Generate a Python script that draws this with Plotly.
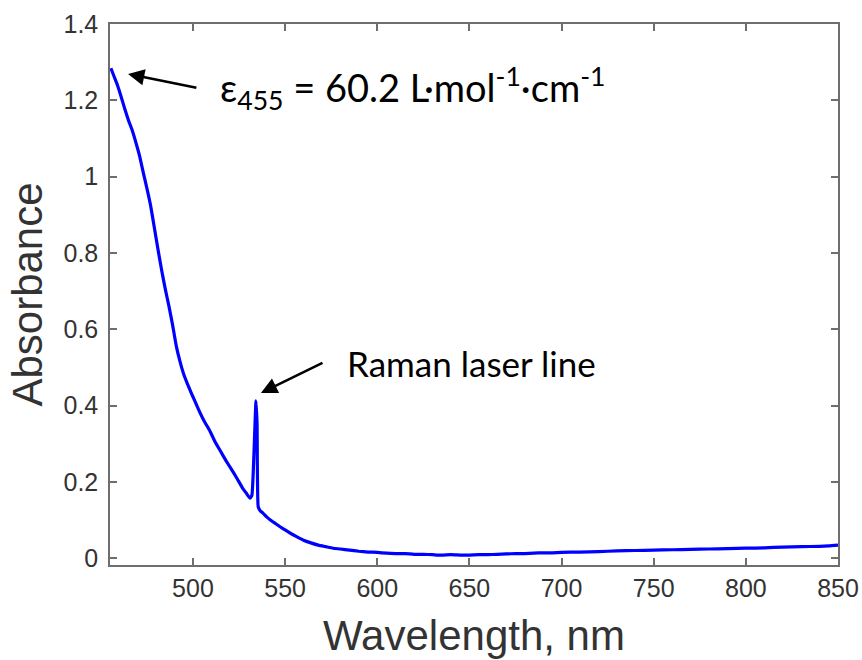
import plotly.graph_objects as go

wavelength = [455.5, 457, 459, 461, 463, 465, 467, 469, 471, 473, 475, 477, 479, 481, 483, 485,
              487, 489, 491, 493, 495, 497, 499, 501, 503, 506, 509, 512, 515, 518, 521, 524, 527,
              529, 531, 532, 533, 534.2, 534.8, 535.4, 536.5, 538, 540, 542, 545, 548, 550,
              553, 556, 560, 564, 568, 572, 576, 580, 585, 590, 595, 600, 605, 610, 615, 620,
              625, 630, 635, 640, 645, 650, 655, 660, 665, 670, 675, 680, 685, 690, 695, 700,
              710, 720, 730, 740, 750, 760, 770, 780, 790, 800, 810, 820, 830, 840, 845, 850]
absorbance = [1.284, 1.265, 1.240, 1.210, 1.178, 1.148, 1.122, 1.090, 1.055, 1.012, 0.970, 0.925,
              0.868, 0.810, 0.755, 0.705, 0.660, 0.610, 0.555, 0.515, 0.482, 0.457, 0.434, 0.412,
              0.390, 0.360, 0.335, 0.305, 0.280, 0.255, 0.232, 0.208, 0.183, 0.170, 0.157, 0.165,
              0.260, 0.412, 0.350, 0.135, 0.124, 0.118, 0.108, 0.100, 0.090, 0.080, 0.074, 0.065,
              0.057, 0.047, 0.040, 0.034, 0.030, 0.026, 0.024, 0.021, 0.018, 0.016, 0.015, 0.013,
              0.012, 0.012, 0.010, 0.010, 0.009, 0.008, 0.009, 0.008, 0.008, 0.009, 0.009, 0.010,
              0.011, 0.012, 0.012, 0.013, 0.014, 0.014, 0.015, 0.016, 0.017, 0.019, 0.020, 0.021,
              0.022, 0.023, 0.024, 0.025, 0.026, 0.027, 0.029, 0.030, 0.031, 0.032, 0.034]

x_ticks = [500, 550, 600, 650, 700, 750, 800, 850]
y_ticks = [0, 0.2, 0.4, 0.6, 0.8, 1.0, 1.2, 1.4]
y_tick_labels = ["0", "0.2", "0.4", "0.6", "0.8", "1", "1.2", "1.4"]

eps_text = "ε<sub>455</sub> = 60.2 L·mol<sup>-1</sup>·cm<sup>-1</sup>"
raman_text = "Raman laser line"

fig = go.Figure()
fig.add_trace(go.Scatter(x=wavelength, y=absorbance, mode="lines",
                         line=dict(color="#0000FF", width=3.2, shape="spline", smoothing=0.4),
                         showlegend=False))

axis_common = dict(showline=True, linecolor="#6e6e6e", linewidth=1.5, mirror="ticks",
                   ticks="inside", ticklen=7, tickwidth=1.5, tickcolor="#6e6e6e",
                   showgrid=False, zeroline=False, automargin=False,
                   tickfont=dict(family="Liberation Sans, Arial", size=25, color="#333333"))

fig.update_xaxes(range=[455, 850], tickvals=x_ticks,
                 title=dict(text="Wavelength, nm", standoff=20,
                            font=dict(family="Liberation Sans, Arial", size=42, color="#333333")),
                 **axis_common)
fig.update_yaxes(range=[-0.018, 1.4], tickvals=y_ticks, ticktext=y_tick_labels,
                 ticklabelstandoff=5,
                 title=dict(text="Absorbance", standoff=8,
                            font=dict(family="Liberation Sans, Arial", size=42, color="#333333")),
                 **axis_common)

fig.add_annotation(x=464.8, y=1.269, ax=502.7, ay=1.232, axref="x", ayref="y",
                   xref="x", yref="y", text="", showarrow=True, arrowhead=2,
                   arrowsize=1.3, arrowwidth=2.5, arrowcolor="black")
fig.add_annotation(x=536.9, y=0.433, ax=571.1, ay=0.514, axref="x", ayref="y",
                   xref="x", yref="y", text="", showarrow=True, arrowhead=2,
                   arrowsize=1.3, arrowwidth=2.5, arrowcolor="black")
fig.add_annotation(x=513.6, y=1.232, xref="x", yref="y", text=eps_text, showarrow=False,
                   xanchor="left", yanchor="middle",
                   font=dict(family="Lato", size=38, color="black"))
fig.add_annotation(x=582.5, y=0.511, xref="x", yref="y", text=raman_text, showarrow=False,
                   xanchor="left", yanchor="middle",
                   font=dict(family="Lato", size=35, color="black"))

fig.update_layout(width=862, height=660, margin=dict(l=110, r=24, t=24, b=95),
                  paper_bgcolor="white", plot_bgcolor="white")

fig.write_html("out.html")
